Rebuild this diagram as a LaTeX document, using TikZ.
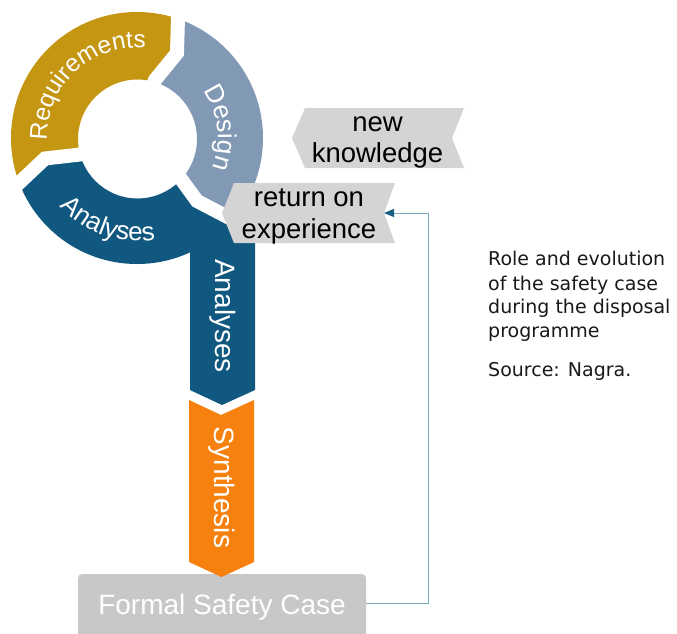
\documentclass[tikz,border=0pt]{standalone}
\usepackage{fontspec}
\setmainfont{Liberation Sans}
\newfontfamily\capfont{DejaVu Sans}
\usetikzlibrary{decorations.text,arrows.meta}
\definecolor{reqgold}{RGB}{196,150,18}
\definecolor{desblue}{RGB}{130,153,182}
\definecolor{anablue}{RGB}{16,88,128}
\definecolor{synorange}{RGB}{247,129,14}
\definecolor{chevgray}{RGB}{212,212,212}
\definecolor{boxgray}{RGB}{200,200,200}
\definecolor{linecol}{RGB}{120,170,190}
\definecolor{arrowcol}{RGB}{25,95,130}
\definecolor{captext}{RGB}{25,25,25}
\begin{document}
\begin{tikzpicture}[x=1pt,y=-1pt,
  gapline/.style={white, line width=14pt, line join=miter},
  lbl/.style={font=\fontsize{27.5}{31}\selectfont, text=black, inner sep=0pt},
  barlbl/.style={font=\fontsize{28}{32}\selectfont, text=white, inner sep=0pt, rotate=-90},
  caplbl/.style={font=\capfont\fontsize{19}{24}\selectfont, text=captext, inner sep=0pt, anchor=base west},
  fsbox/.style={fill=boxgray, rounded corners=4pt, minimum width=288pt, minimum height=66pt, inner sep=0pt,
    text=white, font=\fontsize{28}{32}\selectfont},
  conn/.style={draw=linecol, line width=1pt, -{Triangle[length=10pt,width=8pt,color=arrowcol]}}
]
\useasboundingbox (0,0) rectangle (677,633);
\coordinate (C) at (137,138);
\coordinate (H) at (137.5,139);
% ring sectors
\begin{scope}[even odd rule]
\clip (C) circle[radius=126] (H) circle[radius=59.5];
\fill[reqgold] (C) -- (80,154.5) -- (45,158.5) -- (18.5,183.5) -- (-8,208.5) -- (-20,-20) -- (179,-20) -- (178,17) -- (177,53) -- (155,80) -- cycle;
\fill[desblue] (C) -- (155,80) -- (177,53) -- (178,17) -- (179,-20) -- (300,-20) -- (300,254) -- (289,249) -- (220,213) -- (197,201) -- (181,179) -- cycle;
\fill[anablue] (C) -- (181,179) -- (197,201) -- (220,213) -- (289,249) -- (289,300) -- (-20,300) -- (-8,208.5) -- (18.5,183.5) -- (45,158.5) -- (80,154.5) -- cycle;
\end{scope}
% vertical analyses bar
\fill[anablue] (190,215) -- (205,205) -- (255,231) -- (255,390) -- (222,405) -- (190,390) -- cycle;
% gaps between ring segments
\draw[gapline] (C) -- (80,154.5) -- (45,158.5) -- (18.5,183.5) -- (-8,208.5);
\draw[gapline] (C) -- (155,80) -- (177,53) -- (178,17) -- (179,-20);
\draw[gapline] (C) -- (181,179) -- (197,201) -- (220,213) -- (289,249);
% formal safety case box
\node[fsbox] (fsc) at (222,607) {Formal Safety Case};
% synthesis
\fill[synorange] (189,400) -- (221,415) -- (254,400) -- (254,562) -- (221.5,577) -- (189,562) -- cycle;
% ring labels
\path[decorate, decoration={text along path, text align=center, text color=white,
  text={|\fontsize{24.5}{24.5}\selectfont|Requirements}}]
  (C) ++(-208:90) arc[start angle=-208, end angle=-58, radius=90];
\path[decorate, decoration={text along path, text align=center, text color=white,
  text={|\fontsize{26}{26}\selectfont|Design}}]
  (C) ++(-62:81) arc[start angle=-62, end angle=48, radius=81];
\path[decorate, decoration={text along path, text align=center, text color=white,
  text={|\fontsize{26}{26}\selectfont|Analyses}}]
  (C) ++(169:103) arc[start angle=169, end angle=49, radius=103];
% bar labels
\node[barlbl] (ana) at (222.5,316) {Analyses};
\node[barlbl] (syn) at (222,487.5) {Synthesis};
% chevron boxes
\fill[chevgray] (305,108) -- (464,108) -- (452,138) -- (464,168) -- (305,168) -- (292,138) -- cycle;
\fill[chevgray] (234,183) -- (395,183) -- (384,213) -- (395,243) -- (234,243) -- (222,213) -- cycle;
\coordinate (roe) at (384,213);
\node[lbl, anchor=base] (nk1) at (377.5,131.7) {new};
\node[lbl, anchor=base] (nk2) at (377.5,162.7) {knowledge};
\node[lbl, anchor=base] (re1) at (309,206.7) {return on};
\node[lbl, anchor=base] (re2) at (309,238) {experience};
% feedback connector
\draw[conn] ([yshift=4pt]fsc.east) -- ++(62,0) |- (roe);
% caption
\node[caplbl] (c1) at (488,265.7) {Role and evolution};
\node[caplbl] (c2) at (488,290) {of the safety case};
\node[caplbl] (c3) at (488,313.3) {during the disposal};
\node[caplbl] (c4) at (488,337.3) {programme};
\node[caplbl] (src) at (488,376.7) {Source: Nagra.};
\end{tikzpicture}
\end{document}
